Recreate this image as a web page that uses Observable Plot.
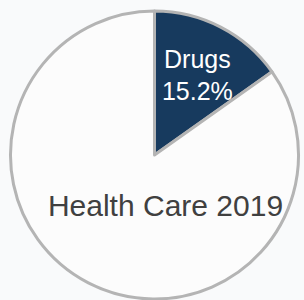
<!DOCTYPE html>
<html><head><meta charset="utf-8">
<script src="https://cdn.jsdelivr.net/npm/d3@7"></script>
<script src="https://cdn.jsdelivr.net/npm/@observablehq/plot@0.6"></script>
<style>html,body{margin:0;padding:0;background:#f9fafb;}</style>
</head><body><div id="chart"></div>
<script>
const categories = ["Drugs", "All other health care"];
const shares = [15.2, 84.8];
const title = "Health Care 2019";
const fills = ["#173a5e", "#fcfcfc"];

const slices = d3.pie().sort(null).value(d => d.share)(
  categories.map((c, i) => ({category: c, share: shares[i]}))
);
const colorScale = Plot.scale({color: {type: "ordinal", domain: categories, range: fills}});
const mid = d => (d.startAngle + d.endAngle) / 2;

function pieMark(index, scales) {
  const cx = scales.x(0), cy = scales.y(0), r = scales.x(1) - scales.x(0);
  const g = d3.create("svg:g").attr("transform", `translate(${cx},${cy})`);
  g.selectAll("path").data(slices).join("path")
    .attr("d", d3.arc().innerRadius(0).outerRadius(r))
    .attr("fill", d => colorScale.apply(d.data.category))
    .attr("stroke", "#b4b4b4")
    .attr("stroke-width", 3)
    .attr("stroke-linejoin", "round");
  return g.node();
}

const chart = Plot.plot({
  width: 304,
  height: 300,
  marginLeft: 10.5,
  marginRight: 5.5,
  marginTop: 11,
  marginBottom: 1,
  x: {domain: [-1, 1], axis: null},
  y: {domain: [-1, 1], axis: null},
  style: {background: "#f9fafb", fontFamily: "Liberation Sans, Arial, sans-serif"},
  marks: [
    pieMark,
    Plot.text(slices.slice(0, 1), {
      x: d => 0.64 * Math.sin(mid(d)),
      y: d => 0.64 * Math.cos(mid(d)),
      text: d => `${d.data.category}\n${d.data.share}%`,
      fill: "white",
      fontSize: 25,
      lineHeight: 1.28
    }),
    Plot.text([title], {
      frameAnchor: "middle",
      dx: 10.5,
      dy: 51,
      fill: "#404040",
      fontSize: 30
    })
  ]
});
document.getElementById("chart").appendChild(chart);
</script>
</body></html>
